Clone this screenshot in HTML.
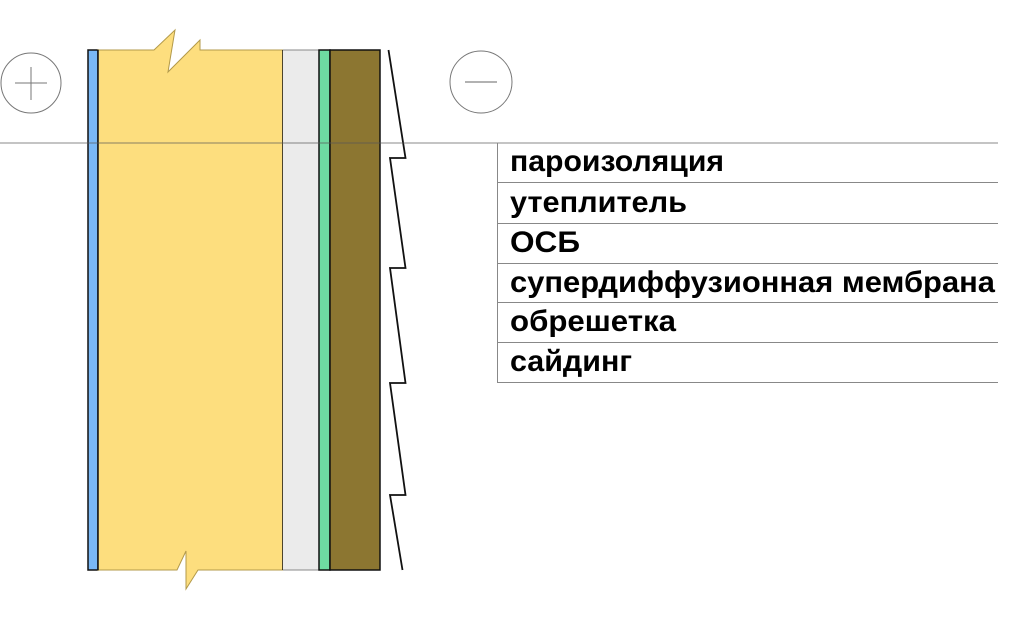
<!DOCTYPE html>
<html><head><meta charset="utf-8"><style>
html,body{margin:0;padding:0;background:#fff;}
svg{display:block;}
text{font-family:"Liberation Sans",Arial,sans-serif;font-weight:bold;font-size:30px;fill:#000;}
</style></head><body>
<svg width="1024" height="621" viewBox="0 0 1024 621" xmlns="http://www.w3.org/2000/svg">
<rect x="88" y="50" width="10" height="520" fill="#7ab8f5" stroke="#111" stroke-width="1.5"/>
<path d="M98,50 L154,50 L175,30 L168,72 L200,40 L200,50 L283,50 L283,570 L198,570 L186,589 L186,551 L177,570 L98,570 Z" fill="#fdde7e" stroke="#b39a4a" stroke-width="1"/>
<line x1="98" y1="50" x2="98" y2="570" stroke="#111" stroke-width="1.5"/>
<line x1="283" y1="50" x2="283" y2="570" stroke="#111" stroke-width="1.5"/>
<rect x="283" y="50" width="36" height="520" fill="#ebebeb"/>
<line x1="283" y1="50" x2="319" y2="50" stroke="#888" stroke-width="1"/>
<line x1="283" y1="570" x2="319" y2="570" stroke="#888" stroke-width="1"/>
<rect x="319" y="50" width="11" height="520" fill="#6edba2" stroke="#111" stroke-width="1.5"/>
<rect x="330" y="50" width="50" height="520" fill="#8c7631" stroke="#111" stroke-width="1.5"/>
<polyline points="388.5,50 405.5,158 390,158 405.5,268 390,268 405.5,383 390,383 405.5,495 390,495 402.5,570" fill="none" stroke="#111" stroke-width="1.8"/>
<line x1="0" y1="143" x2="998" y2="143" stroke="#555" stroke-opacity="0.7" stroke-width="1"/>
<circle cx="31" cy="83" r="30" fill="none" stroke="#777" stroke-width="1"/>
<line x1="15" y1="83" x2="47" y2="83" stroke="#777" stroke-width="1"/>
<line x1="31" y1="67" x2="31" y2="100" stroke="#777" stroke-width="1"/>
<circle cx="481" cy="82" r="31" fill="none" stroke="#777" stroke-width="1"/>
<line x1="465" y1="82" x2="497" y2="82" stroke="#999" stroke-width="1.5"/>
<line x1="497.5" y1="143" x2="497.5" y2="383" stroke="#888" stroke-width="1"/>
<g stroke="#888" stroke-width="1">
<line x1="497" y1="182.5" x2="998" y2="182.5"/>
<line x1="497" y1="223.5" x2="998" y2="223.5"/>
<line x1="497" y1="263.5" x2="998" y2="263.5"/>
<line x1="497" y1="302.5" x2="998" y2="302.5"/>
<line x1="497" y1="342.5" x2="998" y2="342.5"/>
<line x1="497" y1="382.5" x2="998" y2="382.5"/>
</g>
<text x="510" y="171" textLength="214" lengthAdjust="spacingAndGlyphs">пароизоляция</text>
<text x="510" y="212" textLength="177" lengthAdjust="spacingAndGlyphs">утеплитель</text>
<text x="510" y="252" textLength="70" lengthAdjust="spacingAndGlyphs">ОСБ</text>
<text x="510" y="292" textLength="485" lengthAdjust="spacingAndGlyphs">супердиффузионная мембрана</text>
<text x="510" y="331" textLength="166" lengthAdjust="spacingAndGlyphs">обрешетка</text>
<text x="510" y="371" textLength="122" lengthAdjust="spacingAndGlyphs">сайдинг</text>
</svg>
</body></html>
